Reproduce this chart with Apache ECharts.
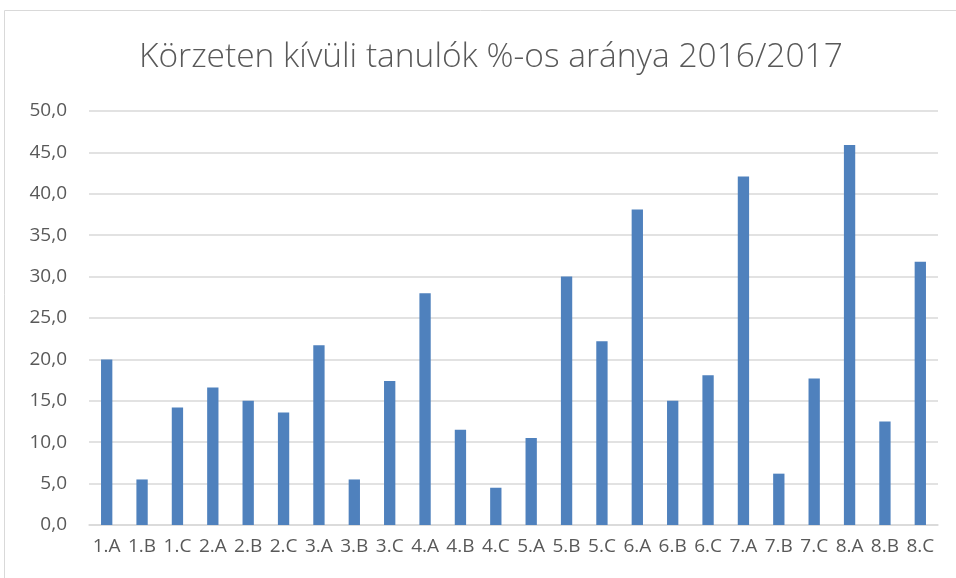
<!DOCTYPE html>
<html>
<head>
<meta charset="utf-8">
<script src="https://cdn.jsdelivr.net/npm/echarts@6/dist/echarts.min.js"></script>
<style>
  html, body { margin: 0; padding: 0; background: #fff; }
  #main { width: 956px; height: 578px; }
</style>
</head>
<body>
<div id="main"></div>
<script>
var classes = ['1.A', '1.B', '1.C', '2.A', '2.B', '2.C', '3.A', '3.B', '3.C', '4.A', '4.B', '4.C',
  '5.A', '5.B', '5.C', '6.A', '6.B', '6.C', '7.A', '7.B', '7.C', '8.A', '8.B', '8.C'];
var percents = [20.0, 5.5, 14.2, 16.6, 15.0, 13.6, 21.7, 5.5, 17.4, 28.0, 11.5, 4.5,
  10.5, 30.0, 22.2, 38.1, 15.0, 18.1, 42.1, 6.2, 17.7, 45.9, 12.5, 31.8];

var myChart = echarts.init(document.getElementById('main'));

myChart.setOption({
  animation: false,
  title: {
    text: 'Körzeten kívüli tanulók %-os aránya 2016/2017',
    left: 134,
    top: 35,
    textStyle: {
      fontFamily: 'Open Sans',
      fontWeight: 300,
      fontSize: 33.5,
      color: '#595959'
    }
  },
  graphic: [
    {
      type: 'rect',
      shape: {x: 4.5, y: 10.5, width: 1000, height: 1000},
      style: {fill: 'none', stroke: '#d9d9d9', lineWidth: 1},
      silent: true
    }
  ],
  grid: {
    left: 89,
    right: 18,
    top: 111,
    bottom: 53
  },
  xAxis: {
    type: 'category',
    data: classes,
    axisTick: {show: false},
    axisLine: {lineStyle: {color: '#d9d9d9', width: 1.5}},
    axisLabel: {
      interval: 0,
      margin: 12,
      fontFamily: 'Open Sans',
      fontSize: 19,
      color: '#595959'
    }
  },
  yAxis: {
    type: 'value',
    min: 0,
    max: 50,
    interval: 5,
    axisLine: {show: false},
    axisTick: {show: false},
    splitLine: {lineStyle: {color: '#d9d9d9', width: 1.5}},
    axisLabel: {
      margin: 22,
      fontFamily: 'Open Sans',
      fontSize: 19,
      color: '#595959',
      formatter: function (v) {
        return v.toFixed(1).replace('.', ',');
      }
    }
  },
  series: [
    {
      type: 'bar',
      data: percents,
      barWidth: '32%',
      itemStyle: {color: '#4f81bd'}
    }
  ]
});
</script>
</body>
</html>
